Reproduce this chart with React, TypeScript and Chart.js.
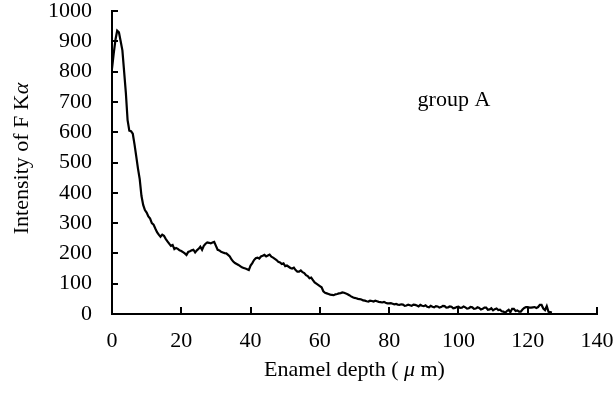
import React, { useEffect, useRef } from "react";
import { Chart, registerables } from "chart.js";

Chart.register(...registerables);

const depth = [
  0, 0.5, 1, 1.5, 2, 2.5, 3, 3.5, 4, 4.5, 5, 5.5, 6, 6.5, 7, 7.5, 8, 8.5, 9, 9.5,
  10, 10.5, 11, 11.5, 12, 12.5, 13, 13.5, 14, 14.5, 15, 15.5, 16, 16.5, 17, 17.5, 18, 18.5, 19, 19.5,
  20, 20.5, 21, 21.5, 22, 22.5, 23, 23.5, 24, 24.5, 25, 25.5, 26, 26.5, 27, 27.5, 28, 28.5, 29, 29.5,
  30, 30.5, 31, 31.5, 32, 32.5, 33, 33.5, 34, 34.5, 35, 35.5, 36, 36.5, 37, 37.5, 38, 38.5, 39, 39.5,
  40, 40.5, 41, 41.5, 42, 42.5, 43, 43.5, 44, 44.5, 45, 45.5, 46, 46.5, 47, 47.5, 48, 48.5, 49, 49.5,
  50, 50.5, 51, 51.5, 52, 52.5, 53, 53.5, 54, 54.5, 55, 55.5, 56, 56.5, 57, 57.5, 58, 58.5, 59, 59.5,
  60, 60.5, 61, 61.5, 62, 62.5, 63, 63.5, 64, 64.5, 65, 65.5, 66, 66.5, 67, 67.5, 68, 68.5, 69, 69.5,
  70, 70.5, 71, 71.5, 72, 72.5, 73, 73.5, 74, 74.5, 75, 75.5, 76, 76.5, 77, 77.5, 78, 78.5, 79, 79.5,
  80, 80.5, 81, 81.5, 82, 82.5, 83, 83.5, 84, 84.5, 85, 85.5, 86, 86.5, 87, 87.5, 88, 88.5, 89, 89.5,
  90, 90.5, 91, 91.5, 92, 92.5, 93, 93.5, 94, 94.5, 95, 95.5, 96, 96.5, 97, 97.5, 98, 98.5, 99, 99.5,
  100, 100.5, 101, 101.5, 102, 102.5, 103, 103.5, 104, 104.5, 105, 105.5, 106, 106.5, 107, 107.5, 108, 108.5, 109, 109.5,
  110, 110.5, 111, 111.5, 112, 112.5, 113, 113.5, 114, 114.5, 115, 115.5, 116, 116.5, 117, 117.5, 118, 118.5, 119, 119.5,
  120, 120.5, 121, 121.5, 122, 122.5, 123, 123.5, 124, 124.5, 125, 125.5, 126, 126.5, 127,
];

const intensity = [
  810, 860, 905, 935, 930, 900, 870, 800, 730, 640, 605, 603, 595, 560, 520, 480, 445, 390, 360, 343,
  335, 322, 315, 300, 295, 282, 270, 262, 255, 262, 258, 248, 240, 232, 225, 228, 214, 218, 215, 210,
  208, 204, 200, 195, 205, 207, 210, 212, 203, 210, 215, 222, 212, 225, 232, 236, 235, 233, 236, 238,
  225, 212, 210, 205, 203, 201, 200, 195, 190, 180, 173, 168, 165, 162, 158, 154, 152, 150, 148, 145,
  160, 168, 178, 184, 186, 183, 190, 192, 195, 190, 193, 196, 189, 186, 182, 178, 172, 170, 165, 167,
  158, 160, 156, 152, 150, 153, 145, 140, 140, 144, 138, 135, 128, 125, 118, 120, 112, 104, 100, 96,
  92, 88, 75, 70, 68, 66, 64, 63, 62, 65, 66, 68, 69, 71, 70, 68, 65, 62, 58, 55,
  53, 52, 50, 49, 48, 45, 44, 42, 41, 44, 43, 41, 44, 42, 40, 39, 38, 40, 37, 35,
  35, 36, 34, 32, 33, 31, 30, 32, 31, 27, 28, 31, 29, 27, 31, 30, 28, 25, 30, 27,
  26, 29, 24, 22, 27, 24, 22, 26, 25, 21, 23, 27, 26, 21, 22, 25, 24, 19, 20, 23,
  24, 20, 21, 25, 22, 18, 19, 23, 22, 17, 18, 22, 20, 15, 17, 21, 21, 14, 15, 19,
  12, 16, 18, 13, 14, 9, 8, 4, 10, 14, 6, 17, 17, 10, 12, 8, 8, 15, 20, 23,
  23, 21, 21, 22, 23, 20, 23, 30, 30, 18, 13, 26, 7, 6, 5,
];

const xTicks = [0, 20, 40, 60, 80, 100, 120, 140];
const yTicks = [0, 100, 200, 300, 400, 500, 600, 700, 800, 900, 1000];

const xTitleParts = [
  { text: "Enamel depth ( ", italic: false },
  { text: "μ", italic: true },
  { text: " m)", italic: false },
];
const yTitleParts = [
  { text: "Intensity of F K", italic: false },
  { text: "α", italic: true },
];
const annotationText = "group A";
const annotationPos = { x: 88.2, y: 706 };

const FONT_FAMILY = '"Liberation Serif", "Times New Roman", serif';
const FONT_SIZE = 22;

function drawParts(ctx: CanvasRenderingContext2D, parts: { text: string; italic: boolean }[], cx: number, cy: number) {
  let total = 0;
  const widths = parts.map((p) => {
    ctx.font = `${p.italic ? "italic " : ""}${FONT_SIZE}px ${FONT_FAMILY}`;
    const w = ctx.measureText(p.text).width;
    total += w;
    return w;
  });
  let x = cx - total / 2;
  ctx.textBaseline = "middle";
  ctx.textAlign = "left";
  parts.forEach((p, i) => {
    ctx.font = `${p.italic ? "italic " : ""}${FONT_SIZE}px ${FONT_FAMILY}`;
    ctx.fillText(p.text, x, cy);
    x += widths[i];
  });
}

const decorPlugin = {
  id: "decor",
  afterDraw(chart: any) {
    const ctx: CanvasRenderingContext2D = chart.ctx;
    const { chartArea, scales } = chart;
    const xs = scales.x;
    const ys = scales.y;
    ctx.save();
    ctx.strokeStyle = "#000";
    ctx.lineWidth = 2;
    ctx.beginPath();
    yTicks.forEach((v) => {
      const py = Math.round(ys.getPixelForValue(v));
      ctx.moveTo(chartArea.left, py);
      ctx.lineTo(chartArea.left + 6, py);
    });
    xTicks.forEach((v) => {
      const px = Math.round(xs.getPixelForValue(v));
      ctx.moveTo(px, chartArea.bottom);
      ctx.lineTo(px, chartArea.bottom - 7);
    });
    ctx.stroke();

    ctx.fillStyle = "#000";
    drawParts(ctx, xTitleParts, (chartArea.left + chartArea.right) / 2, 370);
    ctx.save();
    ctx.translate(22, (chartArea.top + chartArea.bottom) / 2 - 4);
    ctx.rotate(-Math.PI / 2);
    drawParts(ctx, yTitleParts, 0, 0);
    ctx.restore();
    ctx.font = `${FONT_SIZE}px ${FONT_FAMILY}`;
    ctx.textAlign = "left";
    ctx.textBaseline = "middle";
    ctx.fillText(annotationText, xs.getPixelForValue(annotationPos.x), ys.getPixelForValue(annotationPos.y));
    ctx.restore();
  },
};

export default function App() {
  const ref = useRef<HTMLCanvasElement | null>(null);
  useEffect(() => {
    if (!ref.current) return;
    const chart = new Chart(ref.current, {
      type: "line",
      data: {
        datasets: [
          {
            data: depth.map((d, i) => ({ x: d, y: intensity[i] })),
            borderColor: "#000",
            borderWidth: 2.2,
            pointRadius: 0,
            tension: 0,
            fill: false,
          },
        ],
      },
      options: {
        responsive: false,
        animation: false,
        layout: { padding: { top: 11, right: 19, left: 0, bottom: 0 } },
        plugins: { legend: { display: false }, tooltip: { enabled: false } },
        scales: {
          x: {
            type: "linear",
            min: 0,
            max: 140,
            afterFit: (s: any) => {
              s.height = 91;
              s.paddingLeft = 0;
              s.paddingRight = 0;
            },
            afterBuildTicks: (s: any) => {
              s.ticks = xTicks.map((v) => ({ value: v }));
            },
            grid: { display: false, drawTicks: false },
            border: { display: true, color: "#000", width: 2 },
            ticks: {
              color: "#000",
              padding: 14,
              maxRotation: 0,
              autoSkip: false,
              callback: (v: any) => String(v),
              font: { family: FONT_FAMILY, size: FONT_SIZE },
            },
          },
          y: {
            type: "linear",
            min: 0,
            max: 1000,
            afterFit: (s: any) => {
              s.width = 112;
              s.paddingTop = 0;
              s.paddingBottom = 0;
            },
            afterBuildTicks: (s: any) => {
              s.ticks = yTicks.map((v) => ({ value: v }));
            },
            grid: { display: false, drawTicks: false },
            border: { display: true, color: "#000", width: 2 },
            ticks: {
              color: "#000",
              padding: 20,
              autoSkip: false,
              callback: (v: any) => String(v),
              font: { family: FONT_FAMILY, size: FONT_SIZE },
            },
          },
        },
      },
      plugins: [decorPlugin],
    });
    return () => chart.destroy();
  }, []);
  return (
    <div style={{ position: "fixed", left: 0, top: 0, width: 616, height: 405, background: "#fff" }}>
      <canvas ref={ref} width={616} height={405} />
    </div>
  );
}
